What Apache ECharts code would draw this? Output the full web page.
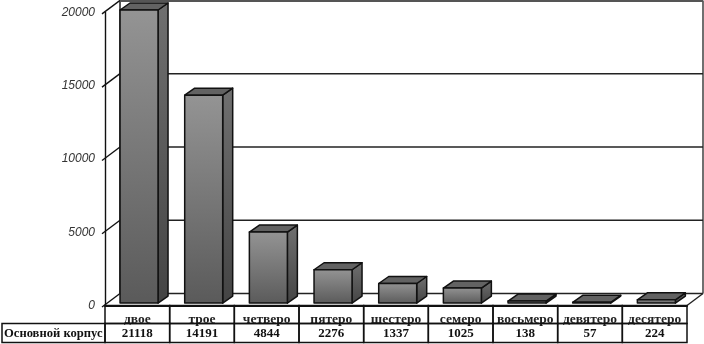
<!DOCTYPE html>
<html><head><meta charset="utf-8">
<style>html,body{margin:0;padding:0;background:#fff}#c{width:704px;height:344px;filter:blur(.35px)}</style>
<script src="https://cdn.jsdelivr.net/npm/echarts@6/dist/echarts.min.js"></script>
</head><body><div id="c"></div>
<script>
const categories = ['двое','трое','четверо','пятеро','шестеро','семеро','восьмеро','девятеро','десятеро'];
const values = [21118,14191,4844,2276,1337,1025,138,57,224];
const ticks = [0,5000,10000,15000,20000];
const rowName = 'Основной корпус';
const axisMax = 20000;

const chart = echarts.init(document.getElementById('c'), null, {renderer:'canvas'});
const serif = '"Liberation Serif", serif';
const BACK = {dx:16, dy:-12};
const BAR = {w:38, shift:1.7, lift:-2.4, dx:10, dy:-7};
const ROW = {h1:18, h2:19};

function wall(params, api){
  const r = params.coordSys;
  const y = api.coord([0, api.value(1)])[1];
  const isTop = api.value(1) === axisMax;
  const bx = r.x + BACK.dx - 1, by = y + BACK.dy;
  const children = [
    {type:'line', shape:{x1:r.x-3, y1:y+1.5, x2:bx, y2:by}, style:{stroke:'#111', lineWidth:1.4}},
    {type:'line', shape:{x1:bx, y1:by, x2:r.x+r.width+16, y2:by},
      style:{stroke:isTop?'#555':'#222', lineWidth:isTop?3:1.6}}
  ];
  if (api.value(1) === 0) {
    children.push({type:'line', shape:{x1:r.x+r.width+16, y1:by, x2:r.x+r.width, y2:y},
      style:{stroke:'#222', lineWidth:1.4}});
    children.push({type:'line', shape:{x1:r.x+r.width+16, y1:by, x2:r.x+r.width+16, y2:r.y+BACK.dy},
      style:{stroke:'#333', lineWidth:1.4}});
    children.push({type:'line', shape:{x1:bx, y1:by, x2:bx, y2:r.y+BACK.dy},
      style:{stroke:'#111', lineWidth:1.4}});
  }
  return {type:'group', children};
}

function bar(params, api){
  const v = Math.min(api.value(1), axisMax);
  const c = api.coord([api.value(0), v]);
  const b = api.coord([api.value(0), 0]);
  const x0 = c[0] + BAR.shift - BAR.w/2, x1 = x0 + BAR.w;
  const top = c[1] + BAR.lift, bot = b[1] + BAR.lift;
  const line = {stroke:'#111', lineWidth:1.5, lineJoin:'round'};
  const grad = (a,z)=>new echarts.graphic.LinearGradient(0,0,0,1,[{offset:0,color:a},{offset:1,color:z}]);
  return {type:'group', children:[
    {type:'polygon', shape:{points:[[x1,top],[x1+BAR.dx,top+BAR.dy],[x1+BAR.dx,bot+BAR.dy],[x1,bot]]},
      style:Object.assign({fill:grad('#707070','#444')}, line)},
    {type:'polygon', shape:{points:[[x0,top],[x0+BAR.dx,top+BAR.dy],[x1+BAR.dx,top+BAR.dy],[x1,top]]},
      style:Object.assign({fill:'#626262'}, line)},
    {type:'rect', shape:{x:x0,y:top,width:BAR.w,height:bot-top},
      style:Object.assign({fill:grad('#949494','#5a5a5a')}, line)}
  ]};
}

function cell(params, api){
  const c = api.coord([api.value(0), 0]);
  const w = api.size([1,0])[0];
  const y0 = c[1];
  const x = c[0]-w/2;
  const line = {fill:'none', stroke:'#111', lineWidth:1.5};
  return {type:'group', children:[
    {type:'rect', shape:{x, y:y0, width:w, height:ROW.h1}, style:line},
    {type:'rect', shape:{x, y:y0+ROW.h1, width:w, height:ROW.h2}, style:line},
    {type:'text', style:{x:c[0], y:y0+ROW.h1+ROW.h2/2+0.5, text:String(api.value(1)),
      align:'center', verticalAlign:'middle', font:'bold 13px '+serif, fill:'#111'}}
  ]};
}

chart.setOption({
  animation:false,
  backgroundColor:'#fff',
  grid:{left:105, right:17, top:12.4, bottom:38.5, containLabel:false},
  xAxis:{type:'category', data:categories, boundaryGap:true,
    axisLine:{show:true, lineStyle:{color:'#111', width:2}},
    axisTick:{show:false},
    axisLabel:{interval:0, margin:7.5, fontFamily:serif, fontWeight:'bold', fontSize:13.5, color:'#222'}},
  yAxis:{type:'value', min:0, max:axisMax, interval:5000,
    axisLine:{show:true, lineStyle:{color:'#111', width:1.4}},
    axisTick:{show:false},
    splitLine:{show:false},
    axisLabel:{margin:10, padding:[3,0,0,0], fontFamily:'"Liberation Sans", sans-serif', fontStyle:'italic', fontSize:12, color:'#333',
      formatter:v=>String(v)}},
  series:[
    {type:'custom', z:1, clip:false, silent:true, renderItem:wall, encode:{x:0,y:1},
      data:ticks.map(t=>[0,t])},
    {type:'custom', z:3, clip:false, silent:true, renderItem:bar, encode:{x:0,y:1},
      data:values.map((v,i)=>[i,v])},
    {type:'custom', z:4, clip:false, silent:true, renderItem:cell, encode:{x:0,y:1},
      data:values.map((v,i)=>[i,v])}
  ],
  graphic:[
    {type:'rect', z:5, shape:{x:2,y:323.5,width:103,height:19}, style:{fill:'none',stroke:'#111',lineWidth:1.5}},
    {type:'text', z:5, style:{x:4,y:333.5,text:rowName,verticalAlign:'middle',font:'bold 12.6px '+serif,fill:'#111'}}
  ]
});
</script></body></html>
